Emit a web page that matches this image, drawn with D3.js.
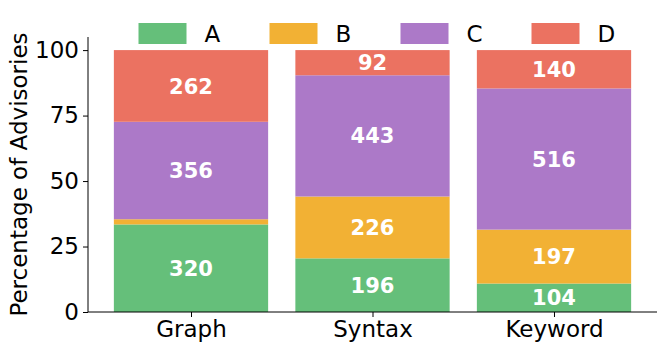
<!DOCTYPE html>
<html>
<head>
<meta charset="utf-8">
<script src="https://cdn.jsdelivr.net/npm/d3@7"></script>
<style>
  body { margin: 0; background: #fff; }
  text { font-family: "DejaVu Sans", sans-serif; }
</style>
</head>
<body>
<svg width="665" height="350"></svg>
<script>
// data
var categories = ["Graph", "Syntax", "Keyword"];
var seriesNames = ["A", "B", "C", "D"];
var valuesA = [320, 196, 104];
var valuesB = [19, 226, 197];
var valuesC = [356, 443, 516];
var valuesD = [262, 92, 140];
var yTicks = [0, 25, 50, 75, 100];
var colors = ["#65bf7a", "#f2b134", "#ac79c8", "#eb7261"];

var svg = d3.select("svg");
var padL = 88, padR = 657, padT = 37, padB = 312;

var x = d3.scaleLinear().domain([-0.5675, 2.5675]).range([padL, padR]);
var y = d3.scaleLinear().domain([0, 105]).range([padB, padT]);
var barW = x(0.85) - x(0);

// build stacked percentages
var rows = categories.map(function (c, i) {
  var vals = [valuesA[i], valuesB[i], valuesC[i], valuesD[i]];
  var total = d3.sum(vals);
  var acc = 0;
  return vals.map(function (v, k) {
    var seg = {cat: i, k: k, v: v, y0: acc, y1: acc + v / total * 100};
    acc = seg.y1;
    return seg;
  });
});
var segs = d3.merge(rows);

svg.selectAll("rect.bar").data(segs).enter().append("rect")
  .attr("class", "bar")
  .attr("x", function (d) { return x(d.cat) - barW / 2; })
  .attr("width", barW)
  .attr("y", function (d) { return y(d.y1); })
  .attr("height", function (d) { return y(d.y0) - y(d.y1); })
  .attr("fill", function (d) { return colors[d.k]; });

svg.selectAll("text.val").data(segs.filter(function (d) { return d.y1 - d.y0 > 5; }))
  .enter().append("text")
  .attr("class", "val")
  .attr("x", function (d) { return x(d.cat); })
  .attr("y", function (d) { return y((d.y0 + d.y1) / 2); })
  .attr("dy", "0.36em")
  .attr("text-anchor", "middle")
  .attr("fill", "#fff")
  .attr("font-weight", "bold")
  .attr("font-size", "21px")
  .text(function (d) { return d.v; });

// axes
var yAxis = d3.axisLeft(y).tickValues(yTicks).tickSize(5).tickPadding(4);
var gy = svg.append("g").attr("transform", "translate(" + padL + ",0)").call(yAxis);
gy.select(".domain").attr("d", "M0," + padB + "V" + padT);

var xAxis = d3.axisBottom(x).tickValues([0, 1, 2]).tickSize(5).tickPadding(4)
  .tickFormat(function (d) { return categories[d]; });
var gx = svg.append("g").attr("transform", "translate(0," + padB + ")").call(xAxis);
gx.select(".domain").attr("d", "M" + padL + ",0H" + padR);

svg.selectAll(".tick text").attr("font-size", "23px").attr("fill", "#000")
  .style("font-family", "DejaVu Sans");
svg.selectAll(".domain, .tick line").attr("stroke", "#000").attr("stroke-width", 1);

svg.append("text")
  .attr("transform", "translate(19," + ((padT + padB) / 2) + ") rotate(-90)")
  .attr("text-anchor", "middle")
  .attr("dy", "0.35em")
  .attr("font-size", "23px")
  .text("Percentage of Advisories");

// legend
var legend = svg.selectAll("g.leg").data(seriesNames).enter().append("g")
  .attr("class", "leg")
  .attr("transform", function (d, i) { return "translate(" + (138.5 + i * 131) + ",23)"; });
legend.append("rect").attr("width", 48).attr("height", 21)
  .attr("fill", function (d, i) { return colors[i]; });
legend.append("text").attr("x", 66).attr("y", 10.5).attr("dy", "0.36em")
  .attr("font-size", "23px").text(function (d) { return d; });
</script>
</body>
</html>
